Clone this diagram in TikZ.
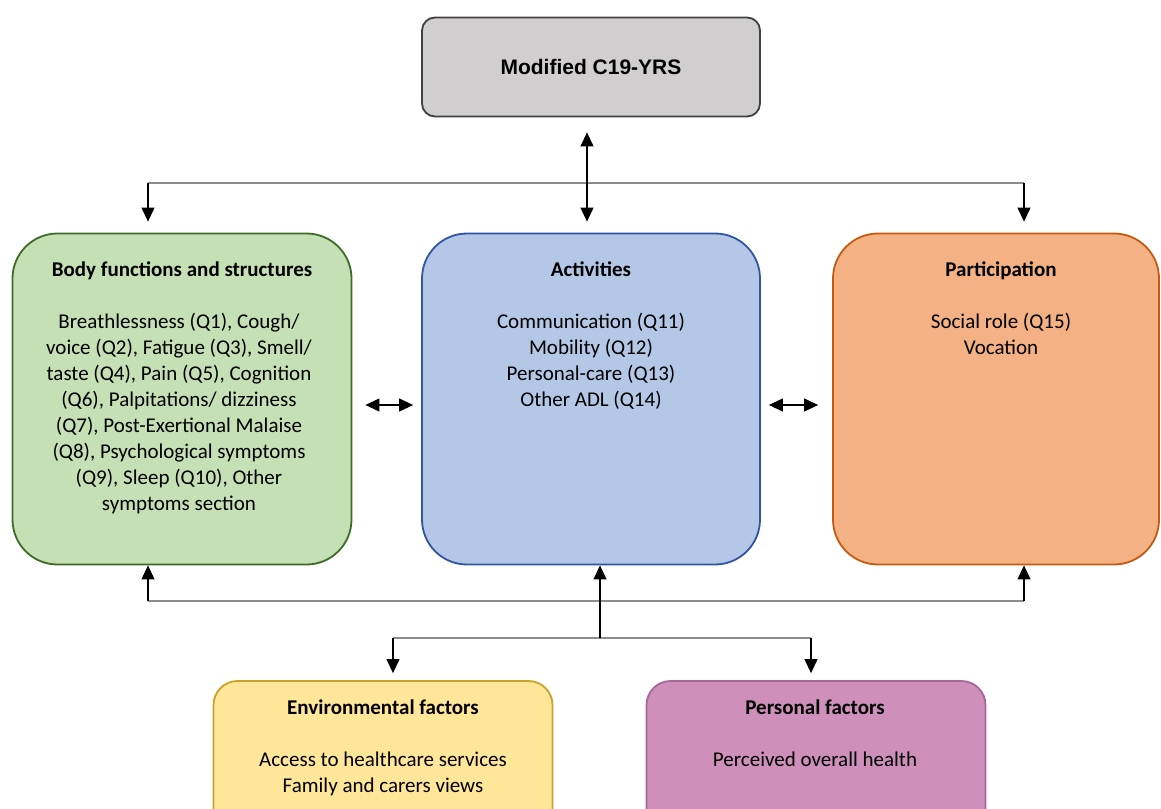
\documentclass[tikz,border=0pt]{standalone}
\usepackage{fontspec}
\setmainfont{Carlito}
\newfontfamily\arialfont{Liberation Sans}
\usetikzlibrary{arrows.meta}
\definecolor{topfill}{HTML}{D0CECE}
\definecolor{topdraw}{HTML}{404040}
\definecolor{gfill}{HTML}{C5E0B4}
\definecolor{gdraw}{HTML}{3E6B27}
\definecolor{bfill}{HTML}{B4C7E7}
\definecolor{bdraw}{HTML}{2F55A4}
\definecolor{ofill}{HTML}{F4B183}
\definecolor{odraw}{HTML}{C55A11}
\definecolor{yfill}{HTML}{FFE699}
\definecolor{ydraw}{HTML}{C9A227}
\definecolor{pfill}{HTML}{CE8FBA}
\definecolor{pdraw}{HTML}{A8679A}
\definecolor{linegray}{HTML}{8C8C8C}
\begin{document}
\begin{tikzpicture}[x=1pt,y=-1pt,
  box/.style={draw, line width=1.8pt, minimum width=338pt, inner sep=0pt},
  ttl/.style={anchor=north, inner sep=0pt, align=center, font=\bfseries\fontsize{21}{26}\selectfont},
  bdy/.style={anchor=north, inner sep=0pt, align=center, font=\fontsize{21}{26}\selectfont},
  tip/.style={-{Triangle[length=14pt,width=13pt]}},
  dtip/.style={{Triangle[length=14pt,width=13pt]}-{Triangle[length=14pt,width=13pt]}},
  vline/.style={line width=1.1pt, black},
  hline/.style={line width=1.1pt, linegray}]
\useasboundingbox (0,0) rectangle (1161,808);
\clip (0,0) rectangle (1161,808);

% boxes
\node[box, fill=topfill, draw=topdraw, rounded corners=13pt, minimum height=99pt,
      font=\arialfont\bfseries\fontsize{21}{24}\selectfont] (top) at (591,67) {Modified C19-YRS};
\node[box, fill=gfill, draw=gdraw, rounded corners=45pt, minimum width=339pt, minimum height=331pt] (bfs) at (182,399) {};
\node[box, fill=bfill, draw=bdraw, rounded corners=45pt, minimum width=338pt, minimum height=331pt] (act) at (591,399) {};
\node[box, fill=ofill, draw=odraw, rounded corners=45pt, minimum width=326pt, minimum height=331pt] (par) at (996,399) {};
\node[box, fill=yfill, draw=ydraw, rounded corners=24pt, minimum width=339pt, minimum height=160pt] (env) at (383,761) {};
\node[box, fill=pfill, draw=pdraw, rounded corners=24pt, minimum width=339pt, minimum height=160pt] (pers) at (816,761) {};

% texts
\node[ttl] (bfsT) at (182,257.8) {\strut Body functions and structures};
\node[bdy] (bfsB) at (179,309.8) {\strut Breathlessness (Q1), Cough/\\voice (Q2), Fatigue (Q3), Smell/\\taste (Q4), Pain (Q5), Cognition\\(Q6), Palpitations/ dizziness\\(Q7), Post-Exertional Malaise\\(Q8), Psychological symptoms\\(Q9), Sleep (Q10), Other\\symptoms section};
\node[ttl] (actT) at (591,257.8) {\strut Activities};
\node[bdy] (actB) at (591,309.8) {\strut Communication (Q11)\\Mobility (Q12)\\Personal-care (Q13)\\Other ADL (Q14)};
\node[ttl] (parT) at (1001,257.8) {\strut Participation};
\node[bdy] (parB) at (1001,309.8) {\strut Social role (Q15)\\Vocation};
\node[ttl] (envT) at (383,695.8) {\strut Environmental factors};
\node[bdy] (envB) at (383,747.8) {\strut Access to healthcare services\\Family and carers views};
\node[ttl] (persT) at (815,695.8) {\strut Personal factors};
\node[bdy] (persB) at (815,747.8) {\strut Perceived overall health};

% top connectors
\coordinate (tl) at (148,183);
\coordinate (tr) at (1024,183);
\draw[hline] (tl) -- (tr);
\draw[vline, tip, shorten >=11pt] (tl) -- (tl |- bfs.north);
\draw[vline, tip, shorten >=11pt] (tr) -- (tr |- par.north);
\draw[vline, dtip, shorten <=15pt, shorten >=11pt] ([xshift=-4pt]top.south) -- ([xshift=-4pt]act.north);

% side double arrows
\draw[vline, dtip, shorten <=13pt, shorten >=8pt] ([yshift=-6pt]bfs.east) -- ([yshift=-6pt]act.west);
\draw[vline, dtip, shorten <=8pt, shorten >=14pt] ([yshift=-6pt]act.east) -- ([yshift=-6pt]par.west);

% bottom connectors
\coordinate (bl) at (148,601);
\coordinate (br) at (1024,601);
\coordinate (bm) at (600,638);
\coordinate (el) at (393,638);
\coordinate (er) at (811,638);
\draw[hline] (bl) -- (br);
\draw[hline] (el) -- (er);
\draw[vline, tip] (bl) -- (bl |- bfs.south);
\draw[vline, tip] (br) -- (br |- par.south);
\draw[vline, tip] (bm) -- (bm |- act.south);
\draw[vline, tip, shorten >=7pt] (el) -- (el |- env.north);
\draw[vline, tip, shorten >=7pt] (er) -- (er |- pers.north);
\end{tikzpicture}
\end{document}
